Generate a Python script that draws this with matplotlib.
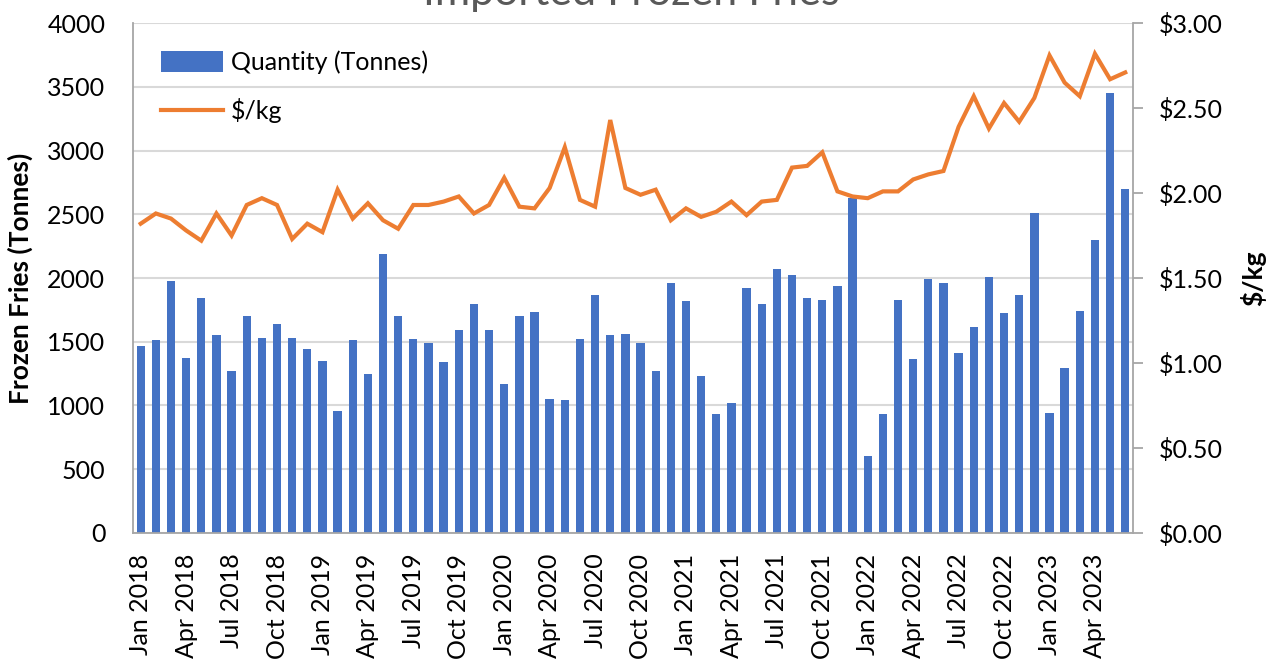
import pandas as pd
import matplotlib
matplotlib.use('Agg')
import matplotlib.pyplot as plt
from matplotlib.ticker import MultipleLocator, FuncFormatter
from matplotlib.patches import Patch
from matplotlib.lines import Line2D

# monthly data, Jan 2018 - Jun 2023
months = pd.date_range('2018-01-01', periods=66, freq='MS')

quantity = [1470, 1510, 1980, 1370, 1840, 1550, 1270, 1700, 1530, 1640, 1530, 1440,
            1350, 960, 1510, 1250, 2190, 1700, 1520, 1490, 1340, 1590, 1800, 1590,
            1170, 1700, 1730, 1050, 1040, 1520, 1870, 1550, 1560, 1490, 1270, 1960,
            1820, 1230, 930, 1020, 1920, 1800, 2070, 2025, 1840, 1825, 1935, 2630,
            600, 930, 1825, 1365, 1995, 1960, 1410, 1615, 2005, 1725, 1870, 2510,
            940, 1295, 1740, 2300, 3450, 2700]

price = [1.82, 1.88, 1.85, 1.78, 1.72, 1.88, 1.75, 1.93, 1.97, 1.93, 1.73, 1.82,
         1.77, 2.02, 1.85, 1.94, 1.84, 1.79, 1.93, 1.93, 1.95, 1.98, 1.88, 1.93,
         2.09, 1.92, 1.91, 2.03, 2.27, 1.96, 1.92, 2.43, 2.03, 1.99, 2.02, 1.84,
         1.91, 1.86, 1.89, 1.95, 1.87, 1.95, 1.96, 2.15, 2.16, 2.24, 2.01, 1.98,
         1.97, 2.01, 2.01, 2.08, 2.11, 2.13, 2.39, 2.57, 2.38, 2.53, 2.42, 2.56,
         2.81, 2.65, 2.57, 2.82, 2.67, 2.71]

tick_labels = ['Jan 2018', 'Apr 2018', 'Jul 2018', 'Oct 2018',
               'Jan 2019', 'Apr 2019', 'Jul 2019', 'Oct 2019',
               'Jan 2020', 'Apr 2020', 'Jul 2020', 'Oct 2020',
               'Jan 2021', 'Apr 2021', 'Jul 2021', 'Oct 2021',
               'Jan 2022', 'Apr 2022', 'Jul 2022', 'Oct 2022',
               'Jan 2023', 'Apr 2023']

plt.rcParams['font.family'] = ['Lato', 'DejaVu Sans']

bar_color = '#4472C4'
line_color = '#ED7D31'
grid_color = '#D9D9D9'
spine_color = '#A6A6A6'

fig = plt.figure(figsize=(12.8, 6.62), dpi=100)
ax = fig.add_axes([0.104, 0.195, 0.781, 0.770])
x = list(range(len(months)))

ax.bar(x, quantity, width=0.55, color=bar_color, zorder=2)
ax.set_xlim(-0.5, len(months) - 0.5)
ax.set_ylim(0, 4000)
ax.yaxis.set_major_locator(MultipleLocator(500))
ax.grid(axis='y', color=grid_color, linewidth=1.5, zorder=0)
ax.set_axisbelow(True)
ax.tick_params(axis='y', length=0, pad=20, labelsize=18)
ax.set_xticks(x[::3])
ax.set_xticklabels(tick_labels, rotation=90, fontsize=18)
ax.tick_params(axis='x', length=0, pad=15)
for s in ['top', 'right']:
    ax.spines[s].set_visible(False)
for s in ['left', 'bottom']:
    ax.spines[s].set_color(spine_color)
    ax.spines[s].set_linewidth(1.3)
ax.set_ylabel('Frozen Fries (Tonnes)', fontsize=19, fontweight='bold', labelpad=10)

ax2 = ax.twinx()
ax2.plot(x, price, color=line_color, linewidth=3, solid_joinstyle='miter', zorder=3)
ax2.set_ylim(0, 3.0)
ax2.yaxis.set_major_locator(MultipleLocator(0.5))
ax2.yaxis.set_major_formatter(FuncFormatter(lambda v, p: '${:.2f}'.format(v)))
ax2.tick_params(axis='y', length=7, width=1.3, color=spine_color, pad=12, labelsize=18)
for s in ['top', 'left', 'bottom']:
    ax2.spines[s].set_visible(False)
ax2.spines['right'].set_color(spine_color)
ax2.spines['right'].set_linewidth(1.3)
ax2.set_ylabel('$/kg', fontsize=19, fontweight='bold', rotation=90, labelpad=12)

handles = [Patch(facecolor=bar_color, edgecolor='none'),
           Line2D([0], [0], color=line_color, linewidth=3)]
ax.legend(handles, ['Quantity (Tonnes)', '$/kg'], loc='upper left',
          bbox_to_anchor=(0.005, 0.99), frameon=False, fontsize=18,
          handlelength=2.5, handleheight=0.9, labelspacing=0.95, handletextpad=0.3)

fig.text(0.493, 0.992, 'Imported Frozen Fries', ha='center', va='baseline',
         fontsize=31, color='#595959')

plt.savefig('out.png', dpi=100)
